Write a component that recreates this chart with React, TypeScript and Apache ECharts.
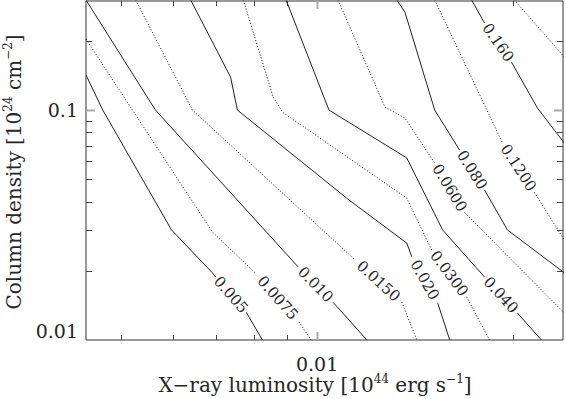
import React, { useEffect, useRef } from "react";
import * as echarts from "echarts";

// Axis ranges (log axes)
const X_MIN = 0.00441;
const X_MAX = 0.0239;
const Y_MIN = 0.01;
const Y_MAX = 0.298;

// Tick positions
const xMajorTicks = [0.01];
const xMinorTicks = [0.005, 0.006, 0.007, 0.008, 0.009, 0.02];
const yMajorTicks = [0.1];
const yMinorTicks = [0.02, 0.03, 0.04, 0.05, 0.06, 0.07, 0.08, 0.09, 0.2];

// Contour levels (label text), alternating solid / dotted
const levels = ["0.005", "0.0075", "0.010", "0.0150", "0.020", "0.0300", "0.040", "0.0600", "0.080", "0.1200", "0.160", "0.240"];

// Contour paths [luminosity, column density]; "a" = before the label, "b" = after it
const c005a = [[0.00441, 0.142], [0.00468, 0.1], [0.00597, 0.0301], [0.0069, 0.0196], [0.00698, 0.0188]];
const c005b = [[0.00778, 0.0132], [0.00824, 0.01]];
const c0075a = [[0.00441, 0.2035], [0.0069, 0.0295], [0.00806, 0.0194]];
const c0075b = [[0.00938, 0.01198], [0.00979, 0.01]];
const c010a = [[0.00441, 0.301], [0.00564, 0.1], [0.00935, 0.0208]];
const c010b = [[0.01058, 0.0146], [0.01193, 0.01]];
const c0150a = [[0.00526, 0.301], [0.00643, 0.1], [0.01144, 0.0223]];
const c0150b = [[0.0135, 0.0146], [0.01424, 0.01]];
const c020a = [[0.00639, 0.301], [0.00736, 0.1392], [0.00754, 0.1], [0.0112, 0.0406], [0.01374, 0.0264], [0.01399, 0.023]];
const c020b = [[0.01533, 0.0145], [0.016, 0.01]];
const c0300a = [[0.0077, 0.301], [0.00856, 0.1139], [0.00884, 0.098], [0.01172, 0.0565], [0.01374, 0.0414], [0.01501, 0.0246]];
const c0300b = [[0.01699, 0.0154], [0.01842, 0.01]];
const c040a = [[0.00896, 0.301], [0.01043, 0.1], [0.01374, 0.0619], [0.0156, 0.0301], [0.0181, 0.0188]];
const c040b = [[0.02034, 0.0131], [0.02214, 0.01]];
const c0600a = [[0.01077, 0.301], [0.01272, 0.103], [0.01365, 0.0923], [0.01517, 0.0588]];
const c0600b = [[0.01687, 0.0358], [0.02401, 0.0131]];
const c080a = [[0.01326, 0.301], [0.01365, 0.267], [0.01517, 0.1], [0.01657, 0.067]];
const c080b = [[0.0181, 0.0449], [0.01963, 0.0301], [0.02401, 0.0196]];
const c1200a = [[0.01517, 0.301], [0.01929, 0.0719]];
const c1200b = [[0.0216, 0.0438], [0.02401, 0.0272]];
const c160a = [[0.01729, 0.301], [0.0181, 0.239]];
const c160b = [[0.01991, 0.1617], [0.02183, 0.102], [0.02401, 0.0719]];
const c240a = [[0.02012, 0.301], [0.02401, 0.17]];

const paths: [number[][], number[][] | null][] = [
  [c005a, c005b], [c0075a, c0075b], [c010a, c010b], [c0150a, c0150b],
  [c020a, c020b], [c0300a, c0300b], [c040a, c040b], [c0600a, c0600b],
  [c080a, c080b], [c1200a, c1200b], [c160a, c160b], [c240a, null],
];

const FONT = "DejaVu Serif";
const INK = "#262626";

export default function App() {
  const ref = useRef<HTMLDivElement>(null);

  useEffect(() => {
    document.body.style.margin = "0";
    if (!ref.current) return;
    const chart = echarts.init(ref.current, null, { renderer: "svg" });

    const decadeFormatter = (v: number) => {
      const l = Math.log10(v);
      if (Math.abs(l - Math.round(l)) < 1e-6) return String(Number(v.toPrecision(1)));
      return "";
    };

    const series: any[] = [];
    paths.forEach(([a, b], i) => {
      const dotted = i % 2 === 1;
      const lineStyle = { color: dotted ? "#111" : "#222", width: 1, type: dotted ? [1, 2] : "solid" };
      [a, b].forEach((seg) => {
        if (!seg) return;
        series.push({
          type: "line",
          data: seg,
          showSymbol: false,
          symbol: "none",
          silent: true,
          lineStyle,
          clip: true,
        });
      });
    });

    const tickItems = (vals: number[], major: number, isX: boolean) =>
      vals.map((v) => (isX ? [v, Y_MIN, major] : [X_MIN, v, major]));

    const tickSeries = (isX: boolean) => ({
      type: "custom",
      silent: true,
      clip: false,
      data: isX
        ? [...tickItems(xMajorTicks, 1, true), ...tickItems(xMinorTicks, 0, true)]
        : [...tickItems(yMajorTicks, 1, false), ...tickItems(yMinorTicks, 0, false)],
      renderItem: (params: any, api: any) => {
        const cs = params.coordSys;
        const major = api.value(2) === 1;
        const p = api.coord([api.value(0), api.value(1)]);
        const style = { stroke: major ? "#aaa" : "#444", lineWidth: major ? 2 : 1 };
        if (isX) {
          const len = major ? 8 : 5;
          const x = Math.round(p[0]) + 0.5;
          const yb = cs.y + cs.height;
          return {
            type: "group",
            children: [
              { type: "line", shape: { x1: x, y1: yb, x2: x, y2: yb - len }, style },
              { type: "line", shape: { x1: x, y1: cs.y, x2: x, y2: cs.y + len }, style },
            ],
          };
        }
        const len = major ? 9 : 6;
        const y = Math.round(p[1]) + 0.5;
        const xr = cs.x + cs.width;
        return {
          type: "group",
          children: [
            { type: "line", shape: { x1: cs.x, y1: y, x2: cs.x + len, y2: y }, style },
            { type: "line", shape: { x1: xr, y1: y, x2: xr - len, y2: y }, style },
          ],
        };
      },
    });
    series.push(tickSeries(true), tickSeries(false));

    chart.setOption({
      animation: false,
      grid: { left: 86, right: 1, top: 1, bottom: 59, show: true, borderColor: "#333", borderWidth: 1 },
      xAxis: {
        type: "log",
        logBase: 10,
        min: X_MIN,
        max: X_MAX,
        axisLine: { show: false },
        axisTick: { show: false },
        splitLine: { show: false },
        minorTick: { show: false },
        axisLabel: { formatter: decadeFormatter, fontFamily: FONT, fontSize: 19, color: INK, margin: 14 },
      },
      yAxis: {
        type: "log",
        logBase: 10,
        min: Y_MIN,
        max: Y_MAX,
        axisLine: { show: false },
        axisTick: { show: false },
        splitLine: { show: false },
        minorTick: { show: false },
        axisLabel: {
          formatter: decadeFormatter,
          fontFamily: FONT,
          fontSize: 19,
          color: INK,
          margin: 8,
          verticalAlignMinLabel: "bottom",
        },
      },
      series,
    });

    const labelTexts: any[] = [];
    paths.forEach(([a, b], i) => {
      if (!b) return;
      const pa = chart.convertToPixel({ gridIndex: 0 }, a[a.length - 1]) as number[];
      const pb = chart.convertToPixel({ gridIndex: 0 }, b[0]) as number[];
      const ang = Math.atan2(pb[1] - pa[1], pb[0] - pa[0]);
      labelTexts.push({
        type: "text",
        x: (pa[0] + pb[0]) / 2,
        y: (pa[1] + pb[1]) / 2,
        rotation: -ang,
        silent: true,
        style: {
          text: levels[i],
          fontFamily: FONT,
          fontSize: 15,
          fill: INK,
          textAlign: "center",
          textVerticalAlign: "middle",
        },
      });
    });

    const richFor = (size: number) => ({
      a: { fontFamily: FONT, fontSize: size, lineHeight: size + 5, fill: INK, color: INK },
      b: { fontFamily: FONT, fontSize: Math.round(size * 0.62), lineHeight: Math.round(size * 0.62), verticalAlign: "top", fill: INK, color: INK },
    });

    chart.setOption({
      graphic: [
        {
          type: "text",
          x: 315,
          y: 385,
          silent: true,
          style: {
            text: "{a|X\u2212ray luminosity [10}{b|44}{a| erg s}{b|\u22121}{a|]}",
            rich: richFor(20),
            textAlign: "center",
            textVerticalAlign: "middle",
            fill: INK,
          },
        },
        {
          type: "text",
          x: 14,
          y: 172,
          rotation: Math.PI / 2,
          silent: true,
          style: {
            text: "{a|Column density [10}{b|24}{a| cm}{b|\u22122}{a|]}",
            rich: richFor(20),
            textAlign: "center",
            textVerticalAlign: "middle",
            fill: INK,
          },
        },
        ...labelTexts,
      ],
    });

    return () => chart.dispose();
  }, []);

  return <div ref={ref} style={{ width: 566, height: 399 }} />;
}
